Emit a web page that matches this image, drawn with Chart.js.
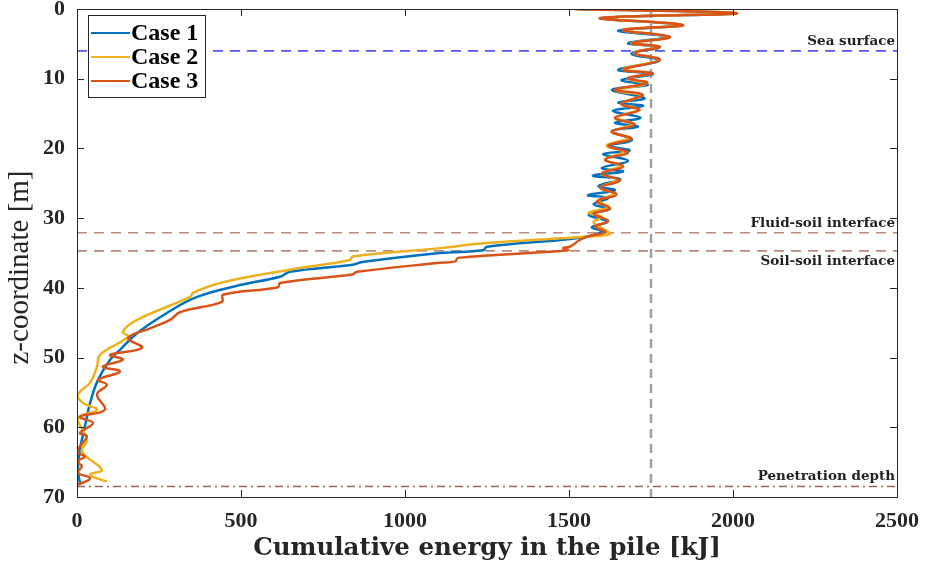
<!DOCTYPE html>
<html>
<head>
<meta charset="utf-8">
<script src="https://cdn.jsdelivr.net/npm/chart.js@4.4.1/dist/chart.umd.min.js"></script>
<style>
  html, body { margin: 0; padding: 0; background: #fff; }
</style>
</head>
<body>
<canvas id="energy" width="927" height="566"></canvas>
<script>
// Case 1
const case1Depth = [0, 0.6, 1.3, 2.3, 3.1, 4.0, 4.9, 5.5, 6.4, 7.4, 8.7, 9.3, 10.2, 10.9, 11.6, 12.8, 13.4, 13.9, 14.6, 15.6, 16.3, 16.9, 17.5, 18.8, 19.6, 20.3, 20.8, 21.8, 22.8, 23.3, 23.9, 24.4, 25.4, 26.0, 26.7, 27.1, 28.0, 28.7, 29.5, 30.5, 31.3, 31.9, 32.8, 34.1, 34.6, 35.0, 36.3, 36.7, 37.7, 38.4, 39.6, 41.3, 43.6, 46.5, 48.9, 50.3, 53.2, 56.5, 59.9, 63.2, 66.1, 68.0];
const case1Energy = [1525, 2005, 1600, 1840, 1650, 1800, 1680, 1775, 1690, 1775, 1650, 1756, 1660, 1740, 1631, 1730, 1650, 1726, 1634, 1718, 1640, 1710, 1631, 1692, 1625, 1685, 1604, 1680, 1600, 1665, 1573, 1656, 1590, 1640, 1558, 1619, 1575, 1625, 1560, 1616, 1570, 1600, 1534, 1250, 1238, 1107, 869, 841, 649, 619, 497, 366, 274, 183, 131, 101, 64, 40, 24, 9, 3, 9];

// Case 2
const case2Depth = [0, 0.6, 1.3, 2.3, 3.0, 4.0, 4.9, 5.4, 6.3, 7.3, 8.6, 9.2, 10.0, 10.7, 11.7, 12.4, 13.6, 14.4, 15.6, 16.5, 17.6, 18.5, 19.6, 20.5, 21.6, 22.5, 23.6, 24.5, 25.6, 26.5, 27.5, 28.4, 29.2, 29.8, 30.6, 31.4, 32.3, 32.7, 33.6, 34.3, 35.5, 36.0, 37.4, 39.2, 40.7, 41.3, 44.6, 46.3, 47.0, 49.6, 51.3, 53.6, 55.3, 56.5, 57.5, 58.7, 61.8, 63.5, 66.1, 66.8, 67.8];
const case2Energy = [1520, 2010, 1600, 1845, 1665, 1805, 1690, 1775, 1700, 1775, 1665, 1750, 1680, 1735, 1645, 1720, 1660, 1710, 1645, 1695, 1630, 1680, 1615, 1665, 1610, 1655, 1600, 1645, 1595, 1635, 1590, 1620, 1560, 1600, 1575, 1600, 1625, 1534, 1238, 1107, 841, 832, 649, 445, 354, 345, 183, 140, 156, 70, 61, 40, 3, 18, 61, 3, 30, 15, 76, 40, 91];

// Case 3
const case3Depth = [0, 0.6, 1.3, 2.3, 3.0, 4.0, 4.9, 5.4, 6.3, 7.3, 8.7, 9.2, 9.9, 10.6, 11.6, 12.3, 13.6, 14.5, 15.6, 16.6, 17.6, 18.6, 19.6, 20.6, 21.6, 22.6, 23.6, 24.6, 25.6, 26.6, 27.6, 28.6, 29.4, 30.4, 31.2, 32.0, 32.6, 33.1, 34.1, 34.3, 34.6, 35.7, 36.2, 36.4, 37.7, 38.1, 39.3, 39.9, 41.0, 42.0, 43.5, 44.6, 45.8, 47.2, 48.6, 49.6, 50.3, 51.3, 52.0, 53.2, 53.9, 55.3, 57.5, 58.5, 59.4, 60.8, 61.3, 63.5, 64.2, 64.9, 65.6, 66.5, 67.3, 68.3];
const case3Energy = [1518, 2012, 1595, 1848, 1665, 1808, 1692, 1777, 1701, 1777, 1665, 1756, 1680, 1738, 1640, 1725, 1660, 1715, 1640, 1700, 1630, 1690, 1620, 1680, 1610, 1665, 1600, 1655, 1595, 1645, 1585, 1625, 1575, 1620, 1580, 1610, 1560, 1534, 1503, 1482, 1497, 1162, 1153, 1107, 854, 838, 619, 613, 445, 442, 314, 284, 223, 156, 198, 101, 140, 79, 131, 64, 91, 61, 85, 9, 49, 9, 30, 0, 24, 0, 15, 0, 40, 0];

const caseNames = ['Case 1', 'Case 2', 'Case 3'];

// reference levels (z in m) and labels
const refLevels = [6, 32.1, 34.7, 68.5];
const refLabels = ['Sea surface', 'Fluid-soil interface', 'Soil-soil interface', 'Penetration depth'];
const refEnergy = 1750;

const xMin = 0, xMax = 2500;
const yMin = 0, yMax = 70;

function toPoints(xs, ys) {
  return xs.map((x, i) => ({ x: x, y: ys[i] }));
}

const caseColors = ['#0072BD', '#EDB120', '#D95319'];
const refColors = ['rgb(85,85,250)', 'rgb(185,140,125)', 'rgb(185,140,125)', 'rgb(150,100,90)'];
const refDash = [[10, 7], [10, 7], [10, 7], [8, 4, 2, 4]];

const datasets = [];
[[case1Energy, case1Depth], [case2Energy, case2Depth], [case3Energy, case3Depth]].forEach((c, i) => {
  datasets.push({
    label: caseNames[i],
    data: toPoints(c[0], c[1]),
    borderColor: caseColors[i],
    borderWidth: 2.5,
    pointRadius: 0,
    showLine: true,
    tension: 0.4,
    order: 3 - i,
  });
});
refLevels.forEach((lv, i) => {
  datasets.push({
    label: refLabels[i],
    data: [{ x: xMin, y: lv }, { x: xMax, y: lv }],
    borderColor: refColors[i],
    borderWidth: 1.6,
    borderDash: refDash[i],
    pointRadius: 0,
    showLine: true,
    order: 5,
  });
});
datasets.push({
  label: 'ref',
  data: [{ x: refEnergy, y: yMin }, { x: refEnergy, y: yMax }],
  borderColor: 'rgb(160,160,160)',
  borderWidth: 2.5,
  borderDash: [9, 6],
  pointRadius: 0,
  showLine: true,
  order: 6,
});

const axisColor = '#262626';
const tickFont = { family: 'Liberation Serif', size: 22, weight: 'bold', lineHeight: 0.6 };

// box, inward ticks, reference labels and legend
const framePlugin = {
  id: 'frame',
  afterDatasetsDraw(chart) {
    const { ctx, chartArea: a, scales } = chart;
    ctx.save();
    ctx.strokeStyle = axisColor;
    ctx.lineWidth = 1;
    ctx.strokeRect(a.left + 0.5, a.top + 0.5, a.right - a.left, a.bottom - a.top);
    ctx.beginPath();
    scales.x.ticks.forEach(t => {
      const px = Math.round(scales.x.getPixelForValue(t.value)) + 0.5;
      ctx.moveTo(px, a.bottom); ctx.lineTo(px, a.bottom - 7);
      ctx.moveTo(px, a.top); ctx.lineTo(px, a.top + 7);
    });
    scales.y.ticks.forEach(t => {
      const py = Math.round(scales.y.getPixelForValue(t.value)) + 0.5;
      ctx.moveTo(a.left, py); ctx.lineTo(a.left + 7, py);
      ctx.moveTo(a.right, py); ctx.lineTo(a.right - 7, py);
    });
    ctx.stroke();

    // reference labels
    ctx.fillStyle = '#222';
    ctx.font = 'bold 13.5px "DejaVu Serif"';
    ctx.textAlign = 'right';
    refLabels.forEach((txt, i) => {
      const py = scales.y.getPixelForValue(refLevels[i]);
      if (i === 2) {
        ctx.textBaseline = 'top';
        ctx.fillText(txt, a.right - 2, py + 4);
      } else {
        ctx.textBaseline = 'bottom';
        ctx.fillText(txt, a.right - 2, py - 3);
      }
    });

    // legend
    const lx = 88, ly = 15, lw = 117, lh = 82;
    ctx.fillStyle = '#fff';
    ctx.fillRect(lx, ly, lw, lh);
    ctx.strokeStyle = axisColor;
    ctx.lineWidth = 1;
    ctx.strokeRect(lx + 0.5, ly + 0.5, lw, lh);
    ctx.font = 'bold 24px "Liberation Serif"';
    ctx.textAlign = 'left';
    ctx.textBaseline = 'middle';
    caseNames.forEach((name, i) => {
      const y = ly + 18 + i * 24;
      ctx.strokeStyle = caseColors[i];
      ctx.lineWidth = 2;
      ctx.beginPath();
      ctx.moveTo(lx + 3, y); ctx.lineTo(lx + 42, y);
      ctx.stroke();
      ctx.fillStyle = '#000';
      ctx.fillText(name, lx + 43, y + 1);
    });
    ctx.restore();
  }
};

new Chart(document.getElementById('energy'), {
  type: 'scatter',
  data: { datasets: datasets },
  options: {
    responsive: false,
    animation: false,
    layout: { padding: { top: 9, right: 30, left: 0, bottom: 0 } },
    plugins: { legend: { display: false }, tooltip: { enabled: false } },
    scales: {
      x: {
        type: 'linear',
        min: xMin,
        max: xMax,
        ticks: { stepSize: 500, color: axisColor, font: tickFont, padding: 0, maxRotation: 0, callback: v => String(v) },
        grid: { display: false, drawTicks: true, tickLength: 18 },
        border: { display: false },
        title: {
          display: true,
          text: 'Cumulative energy in the pile [kJ]',
          color: axisColor,
          font: { family: 'DejaVu Serif', size: 24.5, weight: 'bold' },
          padding: { top: 0, bottom: 3 },
        },
        afterFit: s => { s.height = 69; },
      },
      y: {
        type: 'linear',
        reverse: true,
        min: yMin,
        max: yMax,
        ticks: { stepSize: 10, color: axisColor, font: tickFont, padding: 0, callback: v => String(v) },
        grid: { display: false, drawTicks: true, tickLength: 12 },
        border: { display: false },
        title: {
          display: true,
          text: 'z-coordinate [m]\u00A0\u00A0\u00A0\u00A0',
          color: axisColor,
          font: { family: 'Liberation Serif', size: 29 },
          padding: { top: 3, bottom: 0 },
        },
        afterFit: s => { s.width = 77; },
      },
    },
  },
  plugins: [framePlugin],
});
</script>
</body>
</html>
